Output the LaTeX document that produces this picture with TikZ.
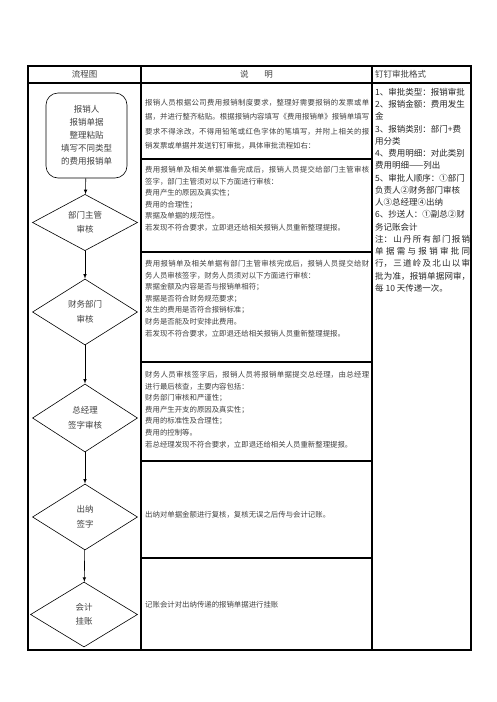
\documentclass[tikz,border=0pt]{standalone}
\usepackage{fontspec}
\setmainfont{Noto Sans CJK SC}
\usetikzlibrary{shapes.geometric,arrows}
\XeTeXlinebreaklocale "zh"
\XeTeXlinebreakskip=0pt plus 2pt

\begin{document}
\begin{tikzpicture}[x=1pt,y=-1pt,
  every node/.style={inner sep=0pt},
  box/.style={draw,line width=0.6pt,rounded corners=12pt,minimum width=81pt,minimum height=85pt,align=center,font=\fontsize{8.5}{13}\selectfont,text=black!75},
  dia/.style={draw,diamond,line width=0.6pt,minimum width=105pt,minimum height=66pt,align=center,font=\fontsize{8.5}{14.5}\selectfont,text=black!75},
  desc/.style={anchor=north west,text width=224pt,align=justify,font=\fontsize{7.4}{11.6}\selectfont,text=black!75},
  head/.style={font=\fontsize{8.5}{10}\selectfont,text=black!75},
  flow/.style={line width=0.6pt,-latex}]
\useasboundingbox (0,0) rectangle (496,702);

\draw[line width=1.1pt] (28,66) rectangle (471,650);
\draw[line width=1.1pt] (141,66)--(141,650) (372,66)--(372,650) (28,83)--(471,83);
\foreach \y in {159,252,362,461,558}
  \draw[line width=1.1pt] (141,\y)--(372,\y);

\node[head] (h1) at (84.5,74.5) {流程图};
\node[head] (h2) at (256.5,74.5) {说\hspace{16pt}明};
\node[head,anchor=west] (h3) at (375,74.5) {钉钉审批格式};

\node[box] (report) at (86.5,135.5) {报销人\\报销单据\\整理粘贴\\填写不同类型\\的费用报销单};
\node[dia,minimum height=55pt] (dept) at (85,222.5) {部门主管\\审核};
\node[dia,minimum height=66pt] (fin) at (85,312) {财务部门\\审核};
\node[dia,minimum height=68pt] (boss) at (85,418) {总经理\\签字审核};
\node[dia,minimum height=66pt] (cashier) at (85,517) {出纳\\签字};
\node[dia,minimum height=65pt,minimum width=107pt] (acct) at (84,614.5) {会计\\挂账};

\draw[flow] (report)--(dept);
\draw[flow] (dept)--(fin);
\draw[flow] (fin)--(boss);
\draw[flow] (boss)--(cashier);
\draw[flow] (cashier)--(acct);

\node[desc,font=\fontsize{7.4}{14.5}\selectfont] (t1) at (145,99) {报销人员根据公司费用报销制度要求，整理好需要报销的发票或单\linebreak 据，并进行整齐粘贴。根据报销内容填写《费用报销单》报销单填写\linebreak 要求不得涂改，不得用铅笔或红色字体的笔填写，并附上相关的报\linebreak 销发票或单据并发送钉钉审批，具体审批流程如右：};
\node[desc] (t2) at (145,166) {费用报销单及相关单据准备完成后，报销人员提交给部门主管审核\linebreak 签字，部门主管须对以下方面进行审核：\\费用产生的原因及真实性；\\费用的合理性；\\票据及单据的规范性。\\若发现不符合要求，立即退还给相关报销人员重新整理提报。};
\node[desc] (t3) at (145,260) {费用报销单及相关单据有部门主管审核完成后，报销人员提交给财\linebreak 务人员审核签字，财务人员须对以下方面进行审核：\\票据金额及内容是否与报销单相符；\\票据是否符合财务规范要求；\\发生的费用是否符合报销标准；\\财务是否能及时安排此费用。\\若发现不符合要求，立即退还给相关报销人员重新整理提报。};
\node[desc] (t4) at (145,371) {财务人员审核签字后，报销人员将报销单据提交总经理，由总经理\linebreak 进行最后核查，主要内容包括：\\财务部门审核和严谨性；\\费用产生开支的原因及真实性；\\费用的标准性及合理性；\\费用的控制等。\\若总经理发现不符合要求，立即退还给相关人员重新整理提报。};
\node[desc,anchor=west] (t5) at (145,515) {出纳对单据金额进行复核，复核无误之后传与会计记账。};
\node[desc,anchor=west] (t6) at (145,605) {记账会计对出纳传递的报销单据进行挂账};

\node[desc,text width=95pt,font=\fontsize{8.5}{12.25}\selectfont,text=black!85] (fmt) at (375,88) {1、审批类型：报销审批\\2、报销金额：费用发生\\金\\3、报销类别：部门+费\\用分类\\4、费用明细：对此类别\\费用明细——列出\\5、审批人顺序：①部门\\负责人②财务部门审核\\人③总经理④出纳\\6、抄送人：①副总②财\\务记账会计\\注：山丹所有部门报销\linebreak 单据需与报销审批同\linebreak 行，三道岭及北山以审\linebreak 批为准，报销单据网审，\linebreak 每 10 天传递一次。};
\end{tikzpicture}
\end{document}
